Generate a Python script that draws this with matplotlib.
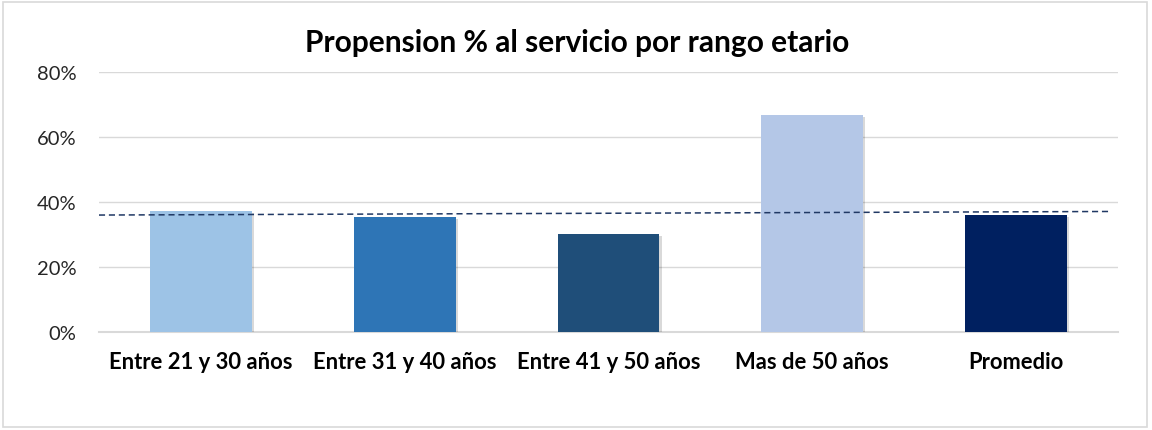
import matplotlib
matplotlib.use("Agg")
import matplotlib.pyplot as plt
import matplotlib.patheffects as pe
from matplotlib.patches import Rectangle
from matplotlib.ticker import FuncFormatter

categories = ["Entre 21 y 30 años", "Entre 31 y 40 años", "Entre 41 y 50 años", "Mas de 50 años", "Promedio"]
values = [37.1, 35.4, 30.1, 66.7, 35.9]
bar_colors = ["#9DC3E6", "#2E75B6", "#1F4E79", "#B4C7E7", "#002060"]
ref_line = [35.9, 37.0]
yticks = [0, 20, 40, 60, 80]
title = "Propension % al servicio por rango etario"

plt.rcParams['font.family'] = ['Lato', 'DejaVu Sans']

fig = plt.figure(figsize=(11.52, 4.31), dpi=100)
fig.patches.append(Rectangle((0.003, 0.007), 0.993, 0.985, transform=fig.transFigure,
                             fill=False, edgecolor="#D9D9D9", linewidth=1.2))
ax = fig.add_axes([0.0859, 0.228, 0.8846, 0.6033])

x = list(range(len(categories)))
bars = ax.bar(x, values, width=0.5, color=bar_colors, zorder=3)
for b in bars:
    b.set_path_effects([pe.SimplePatchShadow(offset=(1.5, -1.5), shadow_rgbFace="#000000", alpha=0.15), pe.Normal()])

ax.plot([-0.5, 4.465], ref_line, linestyle=(0, (4, 2.5)), color="#203864", linewidth=1.1, zorder=4)

ax.set_xlim(-0.5, 4.5)
ax.set_ylim(0, 80)
ax.set_yticks(yticks)
ax.yaxis.set_major_formatter(FuncFormatter(lambda v, p: f"{int(v)}%"))
ax.grid(axis="y", color="#D9D9D9", linewidth=1.0, zorder=0)
ax.set_axisbelow(True)
for s in ["top", "right", "left"]:
    ax.spines[s].set_visible(False)
ax.spines["bottom"].set_color("#D9D9D9")
ax.spines["bottom"].set_linewidth(1.5)
ax.tick_params(axis="both", length=0)
ax.tick_params(axis="y", labelsize=14.5, labelcolor="#262626", pad=16)
ax.set_xticks(x)
ax.set_xticklabels(categories, fontsize=15.8, fontweight="bold", color="#000000")
ax.tick_params(axis="x", pad=14)

fig.text(0.501, 0.90, title, ha="center", va="center", fontsize=21.5, fontweight="bold", color="#000000")

fig.savefig("out.png", dpi=100, facecolor="white")
